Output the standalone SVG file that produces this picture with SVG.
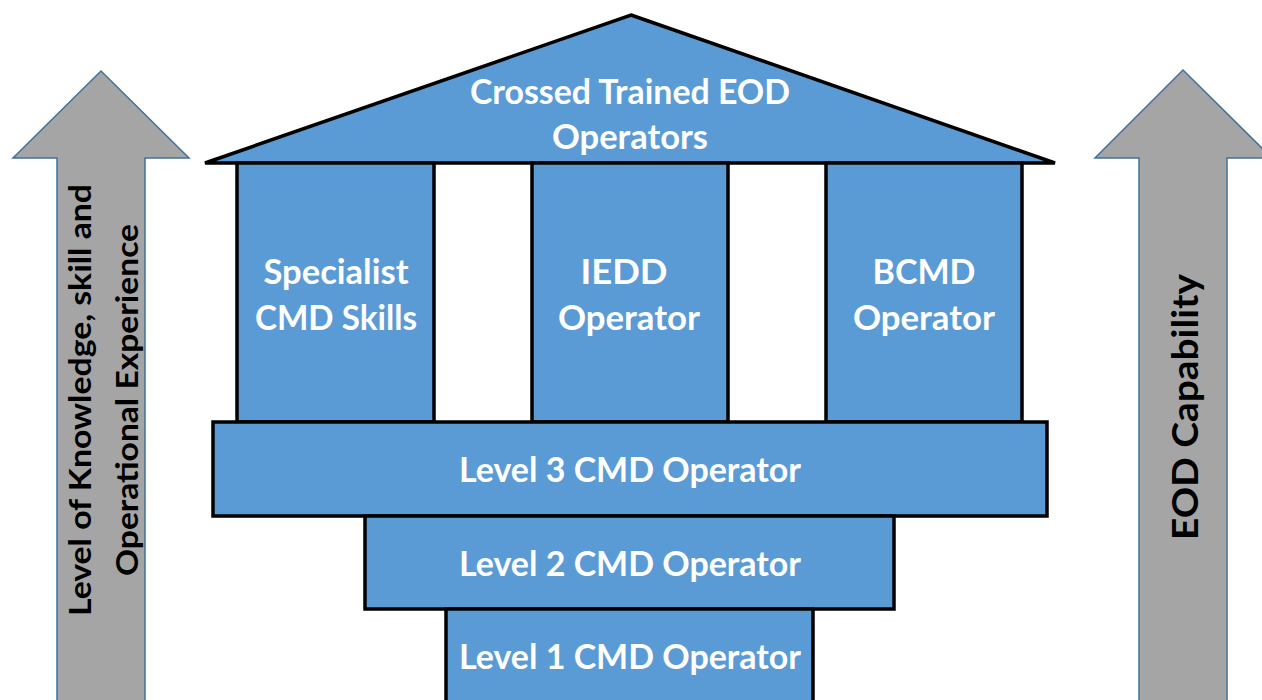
<svg xmlns="http://www.w3.org/2000/svg" width="1262" height="700" viewBox="0 0 1262 700">
<style>
.blk{fill:#5B9BD5;stroke:#000;stroke-width:3.5}
.arr{fill:#A5A5A5;stroke:#41719C;stroke-width:1.5}
.wt{font-family:Lato,"Open Sans",sans-serif;font-weight:bold;font-size:34px;fill:#fff;text-anchor:middle}
.bt{font-family:Lato,"Open Sans",sans-serif;font-weight:bold;fill:#000;text-anchor:middle}
</style>
<rect width="1262" height="700" fill="#fff"/>
<g id="arrow-left">
<polygon class="arr" points="101,71 189,158 145,158 145,702 57,702 57,158 13,158"/>
<text class="bt" font-size="31" transform="translate(91,400) rotate(-90)" x="0" y="0" textLength="432" lengthAdjust="spacingAndGlyphs">Level of Knowledge, skill and</text>
<text class="bt" font-size="31" transform="translate(138,400) rotate(-90)" x="0" y="0" textLength="352" lengthAdjust="spacingAndGlyphs">Operational Experience</text>
</g>
<g id="arrow-right">
<polygon class="arr" points="1183,70 1272,158 1227,158 1227,702 1139,702 1139,158 1095,158"/>
<text class="bt" font-size="36" transform="translate(1198,407) rotate(-90)" x="0" y="0" textLength="266" lengthAdjust="spacingAndGlyphs">EOD Capability</text>
</g>
<g id="roof">
<polygon class="blk" points="631,15 1055,163 205,163"/>
<text class="wt" x="630" y="104" textLength="320" lengthAdjust="spacingAndGlyphs">Crossed Trained EOD</text>
<text class="wt" x="630" y="149" textLength="156" lengthAdjust="spacingAndGlyphs">Operators</text>
</g>
<g id="pillar-specialist">
<rect class="blk" x="237" y="163" width="197" height="259"/>
<text class="wt" x="336" y="284" textLength="145" lengthAdjust="spacingAndGlyphs">Specialist</text>
<text class="wt" x="336" y="330" textLength="162" lengthAdjust="spacingAndGlyphs">CMD Skills</text>
</g>
<g id="pillar-iedd">
<rect class="blk" x="532" y="163" width="196" height="259"/>
<text class="wt" x="624" y="284" textLength="87" lengthAdjust="spacingAndGlyphs">IEDD</text>
<text class="wt" x="629" y="330" textLength="142" lengthAdjust="spacingAndGlyphs">Operator</text>
</g>
<g id="pillar-bcmd">
<rect class="blk" x="826" y="163" width="196" height="259"/>
<text class="wt" x="924" y="284">BCMD</text>
<text class="wt" x="924" y="330" textLength="142" lengthAdjust="spacingAndGlyphs">Operator</text>
</g>
<g id="level3">
<rect class="blk" x="213" y="422" width="834" height="94"/>
<text class="wt" x="630" y="482" textLength="342" lengthAdjust="spacingAndGlyphs">Level 3 CMD Operator</text>
</g>
<g id="level2">
<rect class="blk" x="365" y="516" width="529" height="93"/>
<text class="wt" x="630" y="576" textLength="342" lengthAdjust="spacingAndGlyphs">Level 2 CMD Operator</text>
</g>
<g id="level1">
<rect class="blk" x="446" y="609" width="367" height="95"/>
<text class="wt" x="630" y="669" textLength="342" lengthAdjust="spacingAndGlyphs">Level 1 CMD Operator</text>
</g>
<g id="connectors"/>
</svg>
